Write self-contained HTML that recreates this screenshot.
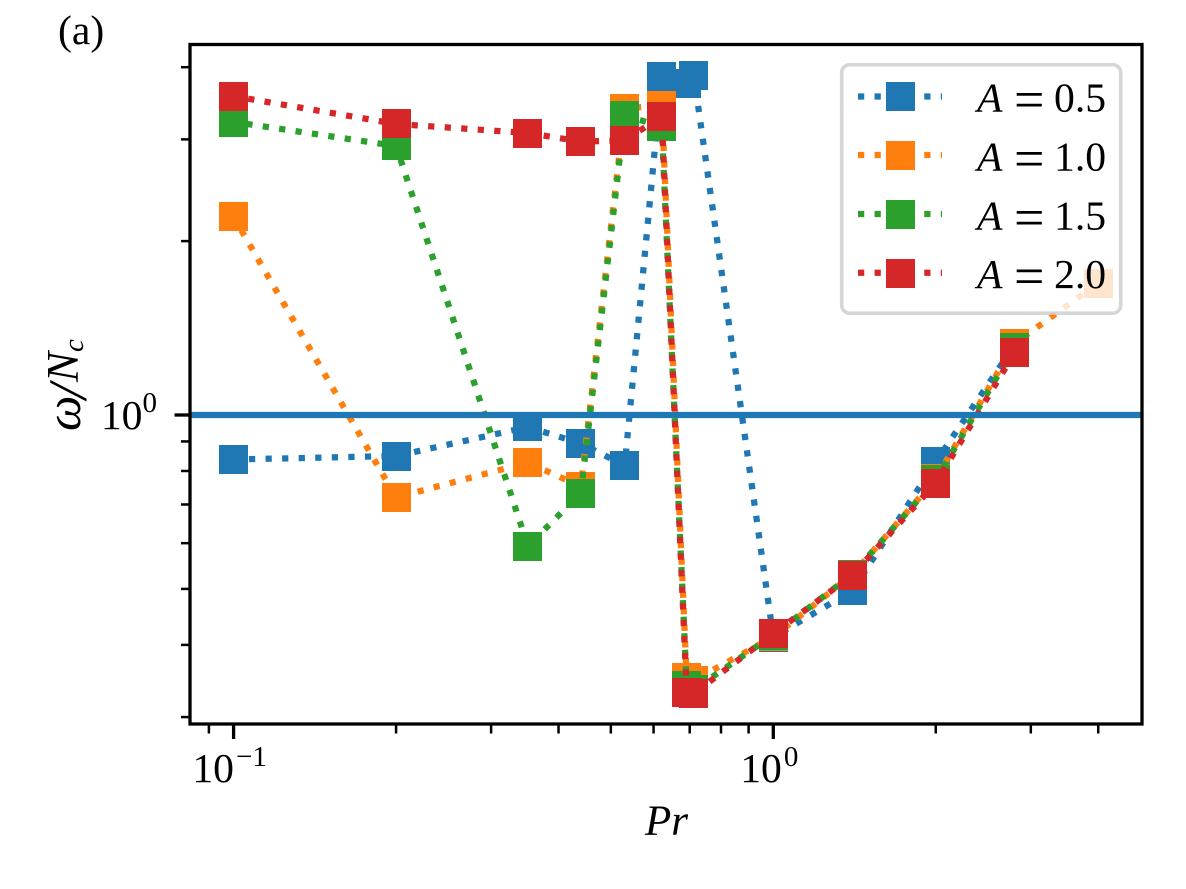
<!DOCTYPE html>
<html lang="en">
<head>
<meta charset="utf-8">
<title>Pr vs omega/Nc</title>
<style>
html,body{margin:0;padding:0;background:#fff;width:1186px;height:889px;overflow:hidden}
svg{display:block}
text{font-family:"Liberation Serif","DejaVu Serif",serif;fill:#000;font-size:41.67px}
.it{font-style:italic}
.eq{font-size:54px}
</style>
</head>
<body>
<svg id="chart" xmlns="http://www.w3.org/2000/svg" width="1186" height="889" viewBox="0 0 1186 889">
  <rect x="0" y="0" width="1186" height="889" fill="#fff"/>
  <text x="58" y="44">(a)</text>
  <g id="series-layer"></g>
  <g id="ref-layer"></g>
  <g id="tick-layer"></g>
  <rect x="190" y="44.5" width="952" height="679.5" fill="none" stroke="#000" stroke-width="3.3"/>

  <text class="it" x="645" y="835" style="font-size:43px">Pr</text>
  <text class="it" transform="translate(78,431) rotate(-90)"><tspan x="0" y="2" style="font-size:50px">ω</tspan><tspan x="32" y="8" style="font-size:54px">/</tspan><tspan x="49" y="0" style="font-size:45px">N</tspan><tspan x="79" y="5" style="font-size:29px">c</tspan></text>

  <g>
    <rect x="841.7" y="64.7" width="279" height="248.5" rx="8" ry="8" fill="#fff" fill-opacity="0.8" stroke="#ccc" stroke-opacity="0.8" stroke-width="3.6"/>
    <g>
      <line x1="858" x2="942" y1="96.5" y2="96.5" stroke="#1f77b4" stroke-width="6.25" stroke-dasharray="6.25 10.3125"/>
      <rect x="886" y="82" width="29" height="29" fill="#1f77b4"/>
      <text><tspan class="it" x="977" y="111.5">A</tspan><tspan class="eq" x="1014" y="117.5">=</tspan><tspan x="1054" y="111.5">0.5</tspan></text>
    </g>
    <g>
      <line x1="858" x2="942" y1="155" y2="155" stroke="#ff7f0e" stroke-width="6.25" stroke-dasharray="6.25 10.3125"/>
      <rect x="886" y="141" width="29" height="29" fill="#ff7f0e"/>
      <text><tspan class="it" x="977" y="170.5">A</tspan><tspan class="eq" x="1014" y="176.5">=</tspan><tspan x="1054" y="170.5">1.0</tspan></text>
    </g>
    <g>
      <line x1="858" x2="942" y1="214" y2="214" stroke="#2ca02c" stroke-width="6.25" stroke-dasharray="6.25 10.3125"/>
      <rect x="886" y="200" width="29" height="29" fill="#2ca02c"/>
      <text><tspan class="it" x="977" y="229.3">A</tspan><tspan class="eq" x="1014" y="235.3">=</tspan><tspan x="1054" y="229.3">1.5</tspan></text>
    </g>
    <g>
      <line x1="858" x2="942" y1="272.7" y2="272.7" stroke="#d62728" stroke-width="6.25" stroke-dasharray="6.25 10.3125"/>
      <rect x="886" y="259" width="29" height="29" fill="#d62728"/>
      <text><tspan class="it" x="977" y="288">A</tspan><tspan class="eq" x="1014" y="294">=</tspan><tspan x="1054" y="288">2.0</tspan></text>
    </g>
  </g>
</svg>
<script>
// Data
const prValues   = [0.1, 0.2, 0.351, 0.44, 0.5305, 0.6213, 0.691, 0.7124, 1.0, 1.4, 2.0, 2.8];
const prValues4  = [0.1, 0.2, 0.351, 0.44, 0.5305, 0.6213, 0.691, 0.7124, 1.0, 1.4, 2.0, 2.8, 4.0];
const seriesA05  = [0.8375, 0.8492, 0.9533, 0.8927, 0.8176, 3.854, 3.748, 3.869, 0.4127, 0.4959, 0.8293, 1.322];
const seriesA10  = [2.202, 0.7197, 0.8275, 0.7519, 3.393, 3.434, 0.3513, 0.3471, 0.4131, 0.5286, 0.7750, 1.330, 1.692];
const seriesA15  = [3.215, 2.922, 0.5932, 0.7322, 3.299, 3.158, 0.3402, 0.3348, 0.4160, 0.5297, 0.7718, 1.310];
const seriesA20  = [3.563, 3.190, 3.077, 2.974, 2.987, 3.286, 0.3315, 0.3295, 0.4184, 0.5276, 0.7625, 1.282];
const referenceLevel = [1.0];
const xMajorTicks = [0.1, 1];
const xMajorExponents = ['−1', '0'];
const xMinorTicks = [0.09, 0.2, 0.3, 0.4, 0.5, 0.6, 0.7, 0.8, 0.9, 2, 3, 4];
const yMajorTicks = [1];
const yMajorExponents = ['0'];
const yMinorTicks = [0.3, 0.4, 0.5, 0.6, 0.7, 0.8, 0.9, 2, 3, 4];

// Axis functions
function xScale(v){ return 773.3 + 539.7 * Math.log10(v); }
function yScale(v){ return 415 - 577.7 * Math.log10(v); }

const NS = 'http://www.w3.org/2000/svg';
const DASH = 6.25, GAP = 10.3125, PERIOD = DASH + GAP;
const seriesLayer = document.getElementById('series-layer');
const refLayer = document.getElementById('ref-layer');
const tickLayer = document.getElementById('tick-layer');

// Dash phase: place a dot a set distance along one segment so overlapping dotted lines interleave as drawn.
function dashOffset(pts, segment, distance){
  let len = 0;
  for (let i = 0; i < segment; i++) {
    len += Math.hypot(pts[i + 1][0] - pts[i][0], pts[i + 1][1] - pts[i][1]);
  }
  const start = len + distance - DASH / 2;
  return PERIOD - (((start % PERIOD) + PERIOD) % PERIOD);
}

function drawSeries(name, color, xs, ys, segment, distance){
  const pts = ys.map((v, i) => [xScale(xs[i]), yScale(v)]);
  const g = document.createElementNS(NS, 'g');
  
  
  const line = document.createElementNS(NS, 'polyline');
  
  
  line.setAttribute('points', pts.map(p => p[0].toFixed(2) + ',' + p[1].toFixed(2)).join(' '));
  line.setAttribute('fill', 'none');
  line.setAttribute('stroke', color);
  line.setAttribute('stroke-width', DASH);
  line.setAttribute('stroke-dasharray', DASH + ' ' + GAP);
  line.setAttribute('stroke-dashoffset', dashOffset(pts, segment, distance).toFixed(2));
  line.setAttribute('stroke-linejoin', 'round');
  g.appendChild(line);
  ys.forEach((v, i) => {
    const r = document.createElementNS(NS, 'rect');
    
    
    r.setAttribute('x', Math.round(xScale(xs[i]) - 14.5));
    r.setAttribute('y', Math.round(yScale(v) - 14.5));
    r.setAttribute('width', 29);
    r.setAttribute('height', 29);
    r.setAttribute('fill', color);
    g.appendChild(r);
  });
  seriesLayer.appendChild(g);
}
drawSeries('a-0-5', '#1f77b4', prValues, seriesA05, 7, 33.8);
drawSeries('a-1-0', '#ff7f0e', prValues4, seriesA10, 5, 42.5);
drawSeries('a-1-5', '#2ca02c', prValues, seriesA15, 5, 13.5);
drawSeries('a-2-0', '#d62728', prValues, seriesA20, 5, 26.5);

referenceLevel.forEach(v => {
  const l = document.createElementNS(NS, 'line');
  
  
  l.setAttribute('x1', 190);
  l.setAttribute('x2', 1142);
  l.setAttribute('y1', yScale(v));
  l.setAttribute('y2', yScale(v));
  l.setAttribute('stroke', '#1f77b4');
  l.setAttribute('stroke-width', '6.25');
  refLayer.appendChild(l);
});

function tickLine(name, x1, y1, x2, y2, w){
  const t = document.createElementNS(NS, 'line');
  
  
  t.setAttribute('x1', x1);
  t.setAttribute('y1', y1);
  t.setAttribute('x2', x2);
  t.setAttribute('y2', y2);
  t.setAttribute('stroke', '#000');
  t.setAttribute('stroke-width', w);
  tickLayer.appendChild(t);
}
function tickLabel(name, x, y, anchor, exp, dy, dx){
  const t = document.createElementNS(NS, 'text');
  
  
  t.setAttribute('x', x);
  t.setAttribute('y', y);
  t.setAttribute('text-anchor', anchor);
  t.appendChild(document.createTextNode('10'));
  const s = document.createElementNS(NS, 'tspan');
  s.setAttribute('font-size', '29');
  s.setAttribute('dy', dy);
  s.setAttribute('dx', dx);
  s.textContent = exp;
  t.appendChild(s);
  tickLayer.appendChild(t);
}
xMinorTicks.forEach(v => tickLine('x-minor-tick', xScale(v), 724, xScale(v), 733.5, 2.5));
yMinorTicks.forEach(v => tickLine('y-minor-tick', 190, yScale(v), 181, yScale(v), 2.5));
xMajorTicks.forEach((v, i) => {
  tickLine('x-major-tick', xScale(v), 724, xScale(v), 739, 3.3);
  tickLabel('x-tick-label', xScale(v) - 4, 782, 'middle', xMajorExponents[i], '-16', '2');
});
yMajorTicks.forEach((v, i) => {
  tickLine('y-major-tick', 190, yScale(v), 174.5, yScale(v), 3.3);
  tickLabel('y-tick-label', 157, yScale(v) + 14, 'end', yMajorExponents[i], '-17', '0');
});
</script>
</body>
</html>
